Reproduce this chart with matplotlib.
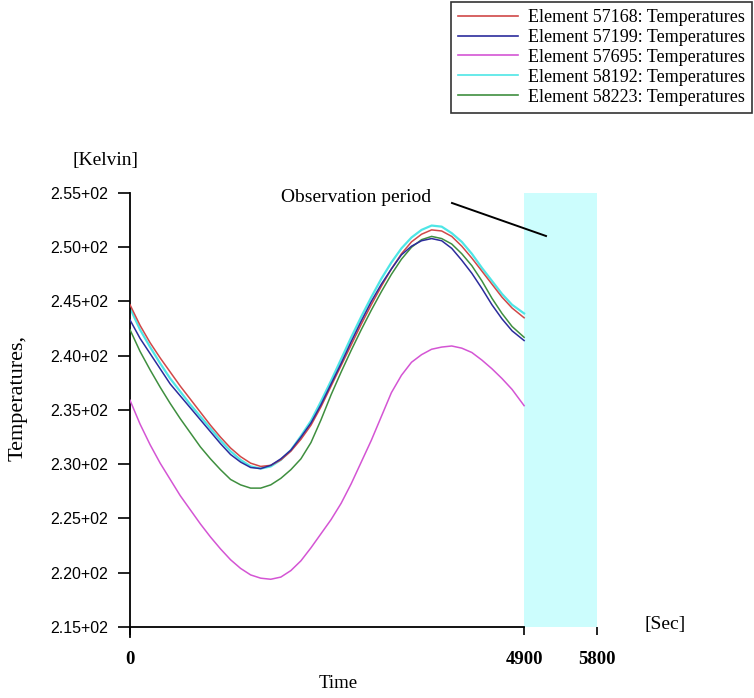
import matplotlib
matplotlib.use("Agg")
import matplotlib.pyplot as plt

# time samples [s] and temperatures [K]
t = [0, 125, 250, 375, 500, 625, 750, 875, 1000, 1125, 1250, 1375, 1500, 1625,
     1750, 1875, 2000, 2125, 2250, 2375, 2500, 2625, 2750, 2875, 3000, 3125,
     3250, 3375, 3500, 3625, 3750, 3875, 4000, 4125, 4250, 4375, 4500, 4625,
     4750, 4900]

temp_57168 = [244.7, 242.8, 241.2, 239.8, 238.5, 237.2, 236.0, 234.8, 233.6, 232.5,
              231.5, 230.7, 230.1, 229.8, 229.9, 230.4, 231.2, 232.3, 233.6, 235.3,
              237.2, 239.1, 241.0, 242.9, 244.7, 246.4, 248.0, 249.4, 250.5, 251.2,
              251.6, 251.5, 251.0, 250.1, 249.0, 247.8, 246.6, 245.4, 244.4, 243.5]
temp_57199 = [243.3, 241.6, 240.2, 238.8, 237.4, 236.3, 235.2, 234.1, 233.0, 231.9,
              230.9, 230.2, 229.7, 229.6, 229.9, 230.5, 231.3, 232.5, 233.8, 235.5,
              237.4, 239.3, 241.3, 243.2, 245.0, 246.6, 248.0, 249.3, 250.1, 250.6,
              250.8, 250.6, 249.9, 248.8, 247.6, 246.2, 244.7, 243.4, 242.3, 241.4]
temp_57695 = [235.9, 233.7, 231.8, 230.1, 228.6, 227.1, 225.8, 224.5, 223.3, 222.2,
              221.2, 220.4, 219.8, 219.5, 219.4, 219.6, 220.2, 221.1, 222.3, 223.6,
              224.9, 226.4, 228.2, 230.2, 232.2, 234.4, 236.6, 238.2, 239.4, 240.1,
              240.6, 240.8, 240.9, 240.7, 240.3, 239.6, 238.8, 237.9, 236.9, 235.4]
temp_58192 = [244.4, 242.4, 240.8, 239.3, 237.9, 236.7, 235.5, 234.4, 233.3, 232.2,
              231.2, 230.4, 229.8, 229.6, 229.8, 230.4, 231.3, 232.6, 234.0, 235.8,
              237.7, 239.7, 241.7, 243.6, 245.4, 247.1, 248.6, 249.9, 250.9, 251.6,
              252.0, 251.9, 251.3, 250.5, 249.4, 248.1, 246.9, 245.7, 244.7, 243.9]
temp_58223 = [242.4, 240.4, 238.7, 237.1, 235.6, 234.2, 232.9, 231.6, 230.5, 229.5,
              228.6, 228.1, 227.8, 227.8, 228.1, 228.7, 229.5, 230.5, 232.0, 234.1,
              236.4, 238.5, 240.5, 242.4, 244.2, 245.9, 247.5, 248.9, 250.0, 250.7,
              251.0, 250.8, 250.3, 249.4, 248.3, 246.9, 245.3, 243.9, 242.7, 241.7]

labels = ["Element 57168: Temperatures", "Element 57199: Temperatures",
          "Element 57695: Temperatures", "Element 58192: Temperatures",
          "Element 58223: Temperatures"]
colors = ["#d04848", "#2c2c9c", "#d455d4", "#4ee6e6", "#3f8f3f"]

yticks = [215, 220, 225, 230, 235, 240, 245, 250, 255]
ytick_labels = ["2.15+02", "2.20+02", "2.25+02", "2.30+02", "2.35+02",
                "2.40+02", "2.45+02", "2.50+02", "2.55+02"]
xticks = [0, 4900, 5800]
obs_start, obs_end = 4900, 5800

W, H = 754, 698
fig = plt.figure(figsize=(W / 100, H / 100), dpi=100)
ax = fig.add_axes([130 / W, (H - 627) / H, (596.5 - 130) / W, (627 - 193) / H])

ax.axvspan(obs_start, obs_end, color="#ccfdfd", lw=0, zorder=0)

series = [temp_57168, temp_57199, temp_57695, temp_58192, temp_58223]
order = [3, 0, 4, 1, 2]  # cyan underneath
handles = [None] * 5
for i in order:
    lw = 1.6 if i == 3 else 1.1
    (h,) = ax.plot(t, series[i], color=colors[i], lw=lw, zorder=2 + order.index(i))
    handles[i] = h

ax.set_xlim(0, 5800)
ax.set_ylim(215, 255)
for s in ("top", "right"):
    ax.spines[s].set_visible(False)
ax.spines["bottom"].set_bounds(0, 4900)
ax.spines["left"].set_bounds(214.1, 255)
ax.spines["bottom"].set_linewidth(1.3)
ax.spines["left"].set_linewidth(1.3)

ax.set_yticks(yticks)
ax.set_yticklabels(ytick_labels, family="Liberation Sans", fontsize=11.5)
ax.tick_params(axis="y", length=8.5, width=1.2, pad=7)
ax.set_xticks(xticks)
ax.set_xticklabels([str(v) for v in xticks], family="Liberation Serif",
                   fontweight="bold", fontsize=13.5)
ax.tick_params(axis="x", length=6, width=1.2, pad=11)

serif = "Liberation Serif"
fig.text(138 / W, 1 - 160 / H, "[Kelvin]", family=serif, fontsize=14,
         ha="right", va="center")
fig.text(18 / W, 1 - 398 / H, "Temperatures,", family=serif, fontsize=16,
         rotation=90, ha="center", va="center")
fig.text(338 / W, 1 - 684 / H, "Time", family=serif, fontsize=13.5,
         ha="center", va="center")
fig.text(665 / W, 1 - 624 / H, "[Sec]", family=serif, fontsize=14,
         ha="center", va="center")
fig.text(356 / W, 1 - 197 / H, "Observation period", family=serif, fontsize=14,
         ha="center", va="center")
fig.add_artist(plt.Line2D([452 / W, 546 / W], [1 - 203 / H, 1 - 236 / H],
                          color="black", lw=1.4))

leg = fig.legend(handles, labels, loc="upper right", bbox_to_anchor=(1.0, 1.0),
                 prop={"family": serif, "size": 13}, frameon=True, fancybox=False,
                 handlelength=3.3, handletextpad=0.55, labelspacing=0.16,
                 borderpad=0.4, borderaxespad=0.1)
leg.get_frame().set_edgecolor("black")
leg.get_frame().set_linewidth(1.2)
for line in leg.get_lines():
    line.set_linewidth(1.2)

fig.savefig("out.png", dpi=100)
